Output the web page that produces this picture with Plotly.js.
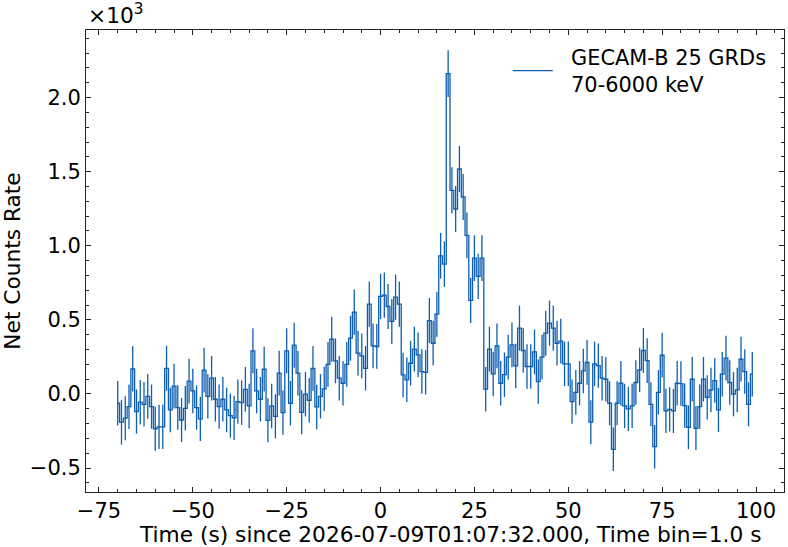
<!DOCTYPE html>
<html>
<head>
<meta charset="utf-8">
<script src="https://cdn.plot.ly/plotly-3.0.1.min.js"></script>
<style>
html,body{margin:0;padding:0;background:#fff;}
#chart{width:788px;height:547px;}
</style>
</head>
<body>
<div id="chart"></div>
<script>
// Time (s) since trigger, bin centres (1.0 s bins)
const times = [
-70,-69,-68,-67,-66,-65,-64,-63,-62,-61,-60,-59,-58,-57,-56,-55,-54,-53,-52,-51,
-50,-49,-48,-47,-46,-45,-44,-43,-42,-41,-40,-39,-38,-37,-36,-35,-34,-33,-32,-31,
-30,-29,-28,-27,-26,-25,-24,-23,-22,-21,-20,-19,-18,-17,-16,-15,-14,-13,-12,-11,
-10,-9,-8,-7,-6,-5,-4,-3,-2,-1,0,1,2,3,4,5,6,7,8,9,
10,11,12,13,14,15,16,17,18,19,20,21,22,23,24,25,26,27,28,29,
30,31,32,33,34,35,36,37,38,39,40,41,42,43,44,45,46,47,48,49,
50,51,52,53,54,55,56,57,58,59,60,61,62,63,64,65,66,67,68,69,
70,71,72,73,74,75,76,77,78,79,80,81,82,83,84,85,86,87,88,89,
90,91,92,93,94,95,96,97,98,99
];

// Net counts rate (counts/s)
const netRate = [
-63,-191,-164,-86,169,-119,-56,-70,-16,-86,-235,-223,-223,173,-108,52,-92,-176,-97,86,
20,-92,-169,160,-16,106,-36,-86,-36,-108,-146,-162,-52,-59,31,-81,291,20,-36,167,
-178,-81,-151,140,-126,291,-63,329,140,-124,-2,-43,173,-88,-16,34,200,369,223,106,
72,200,376,552,275,257,173,606,324,320,658,667,590,489,653,606,128,95,207,302,
264,151,146,495,342,538,932,876,2162,1374,1248,1518,1329,1070,631,916,793,916,32,302,
135,324,72,130,248,331,189,444,293,185,185,284,83,248,410,478,444,342,356,203,
203,-52,11,72,155,212,-191,203,191,106,99,-63,-374,-63,72,-81,-101,-81,77,162,
293,225,-70,-356,11,261,-115,-104,-115,72,70,-79,-225,99,-232,-86,99,-23,27,90,
-108,133,241,77,-2,27,234,151,-70,133
];

// 1-sigma errors (counts/s)
const netRateErr = [
150,151,149,150,152,149,150,150,151,149,148,149,149,152,150,151,150,149,150,151,
150,150,149,151,150,151,150,149,150,150,149,149,150,150,151,150,152,150,150,151,
149,150,149,151,149,152,150,152,151,149,150,150,151,150,150,150,151,152,151,150,
150,151,152,153,151,151,150,153,151,151,153,153,152,152,153,152,150,150,151,151,
151,150,150,152,151,152,154,154,158,156,155,156,155,154,153,154,153,154,150,151,
150,151,150,150,151,151,150,152,151,150,150,151,150,151,152,152,152,151,151,150,
150,149,150,150,150,151,148,150,150,150,150,149,147,149,150,149,149,149,150,150,
151,151,149,147,150,151,149,149,149,150,150,149,148,150,148,149,150,149,150,150,
149,150,151,150,149,150,151,150,149,150
];

const seriesLines = ['GECAM-B 25 GRDs', '70-6000 keV'];
const xTitle = 'Time (s) since 2026-07-09T01:07:32.000, Time bin=1.0 s';
const yTitle = 'Net Counts Rate';
const xTickVals = [-75,-50,-25,0,25,50,75,100];
const xTickText = ['\u221275','\u221250','\u221225','0','25','50','75','100'];
const yTickVals = [-0.5,0,0.5,1,1.5,2];
const yTickText = ['\u22120.5','0.0','0.5','1.0','1.5','2.0'];

const scale = 1000; // y axis shown in units of 10^3
const yPlot = netRate.map(v => v / scale);
const ePlot = netRateErr.map(v => v / scale);

const color = '#0d5eaf';
const axColor = '#222222';
const tickFont = {family: 'DejaVu Sans, sans-serif', size: 21, color: '#000'};
const titleFont = {family: 'DejaVu Sans, sans-serif', size: 21.7, color: '#000'};
const legendFont = {family: 'DejaVu Sans, sans-serif', size: 20.9, color: '#000'};

const pad = '\u00a0\u00a0';
const trace = {
  type: 'scatter',
  mode: 'lines',
  x: times,
  y: yPlot,
  name: seriesLines.map(s => pad + s).join('<br>'),
  line: {shape: 'hvh', color: color, width: 1.3},
  error_y: {type: 'data', array: ePlot, visible: true, color: color, thickness: 1.3, width: 0},
  showlegend: true
};

const axisCommon = {
  showgrid: false,
  zeroline: false,
  showline: true,
  linecolor: axColor,
  linewidth: 1,
  mirror: 'allticks',
  ticks: 'inside',
  ticklen: 5,
  tickwidth: 1,
  tickcolor: axColor,
  tickfont: tickFont
};

const layout = {
  width: 788,
  height: 547,
  margin: {l: 86, r: 4, t: 30, b: 55},
  paper_bgcolor: '#fff',
  plot_bgcolor: '#fff',
  font: tickFont,
  xaxis: Object.assign({}, axisCommon, {
    range: [-78.45, 107.45],
    tickmode: 'array',
    tickvals: xTickVals,
    ticktext: xTickText,
    minor: {dtick: 5, tick0: 0, ticks: 'inside', ticklen: 3, tickcolor: axColor, tickwidth: 1}
  }),
  yaxis: Object.assign({}, axisCommon, {
    range: [-0.662, 2.456],
    tickmode: 'array',
    tickvals: yTickVals,
    ticktext: yTickText,
    minor: {dtick: 0.1, tick0: 0, ticks: 'inside', ticklen: 3, tickcolor: axColor, tickwidth: 1},
    title: {text: yTitle, font: titleFont, standoff: 8}
  }),
  legend: {
    x: 0.6043, y: 0.985, xanchor: 'left', yanchor: 'top',
    bgcolor: 'rgba(0,0,0,0)', borderwidth: 0,
    font: legendFont, itemwidth: 40
  },
  annotations: [{
    xref: 'paper', yref: 'paper', x: 0, y: 1, xanchor: 'left', yanchor: 'bottom',
    text: '\u00d710<sup>3</sup>', showarrow: false, font: titleFont
  }, {
    xref: 'paper', yref: 'paper', x: 0.5208, y: -0.0925, xanchor: 'center', yanchor: 'middle',
    text: xTitle, showarrow: false, font: titleFont
  }]
};

Plotly.newPlot('chart', [trace], layout, {displayModeBar: false, staticPlot: true});
</script>
</body>
</html>
